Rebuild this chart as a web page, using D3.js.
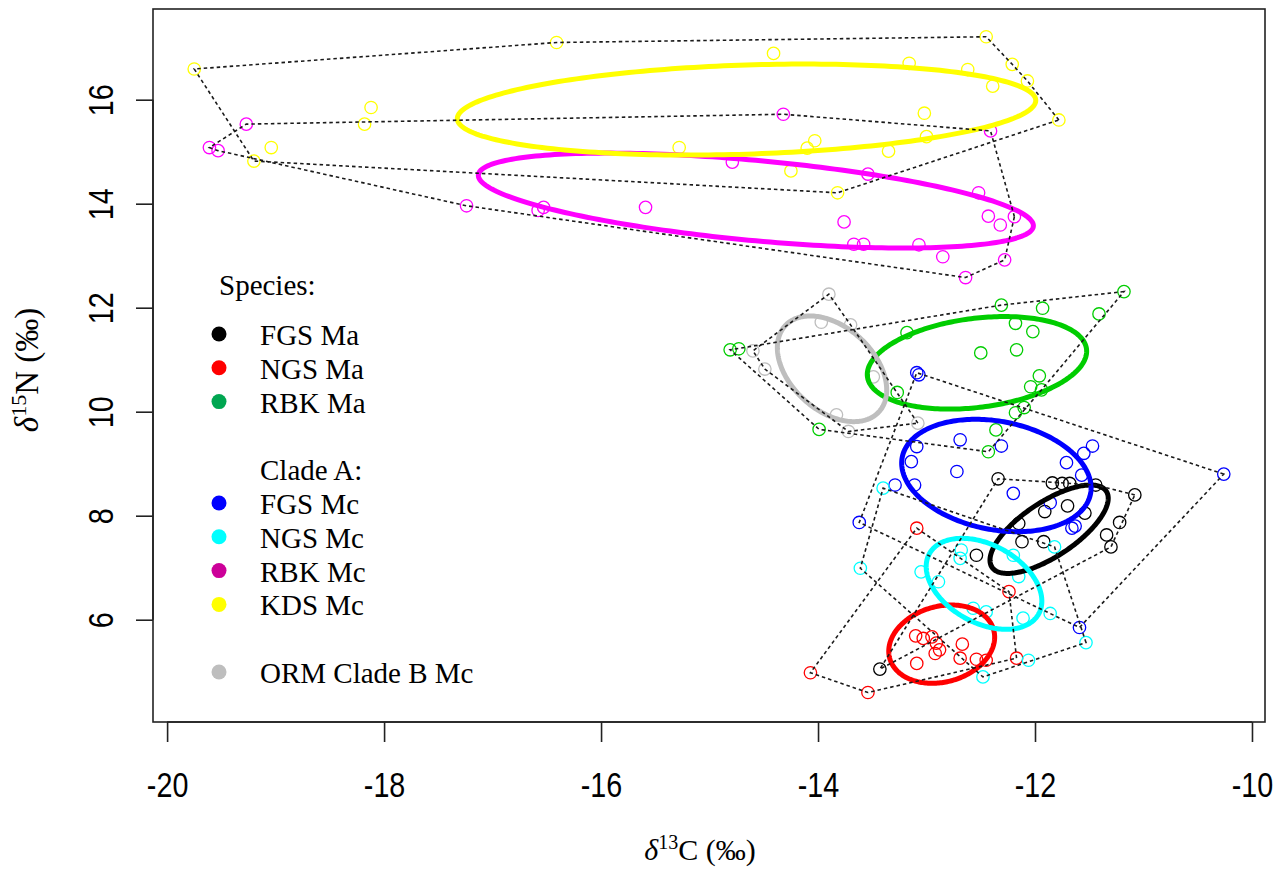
<!DOCTYPE html>
<html>
<head>
<meta charset="utf-8">
<script src="https://cdn.jsdelivr.net/npm/d3@7"></script>
<style>
  body { margin: 0; background: #fff; }
  svg { display: block; }
</style>
</head>
<body>
<div id="chart"></div>
<script>
// group names, in drawing order
const groups = ["FGS Ma", "NGS Ma", "RBK Ma", "FGS Mc", "NGS Mc", "RBK Mc", "KDS Mc", "ORM Clade B Mc"];
const groupColors = ["#000000", "#FF0000", "#00CD00", "#0000FF", "#00FFFF", "#FF00FF", "#FFFF00", "#BEBEBE"];

// [d13C, d15N] per sample
const fgsMa = [[-12.34,8.71],[-11.84,8.63],[-11.75,8.62],[-11.68,8.62],[-11.44,8.59],[-11.08,8.40],[-11.70,8.19],[-11.91,8.08],[-11.54,8.05],[-12.15,7.85],[-11.22,7.87],[-11.34,7.63],[-11.30,7.40],[-12.12,7.50],[-11.92,7.50],[-12.54,7.24],[-13.43,5.05]];
const ngsMa = [[-13.09,7.76],[-12.24,6.54],[-13.10,5.69],[-13.03,5.64],[-12.95,5.67],[-12.91,5.55],[-12.88,5.42],[-12.92,5.35],[-12.67,5.53],[-12.69,5.26],[-13.09,5.16],[-12.54,5.24],[-12.45,5.22],[-12.17,5.26],[-14.07,4.98],[-13.54,4.60]];
const rbkMa = [[-14.81,11.19],[-14.73,11.21],[-13.99,9.66],[-13.27,10.37],[-13.18,11.52],[-12.31,12.05],[-11.93,11.99],[-11.18,12.31],[-11.41,11.88],[-12.18,11.70],[-12.02,11.54],[-12.50,11.13],[-12.17,11.19],[-11.96,10.69],[-12.04,10.48],[-11.94,10.42],[-12.18,9.98],[-12.10,10.08],[-12.36,9.65],[-12.43,9.23]];
const fgsMc = [[-13.09,10.75],[-13.07,10.71],[-12.69,9.46],[-12.31,9.34],[-13.09,9.33],[-13.14,9.04],[-12.72,8.85],[-11.71,9.02],[-11.55,9.20],[-11.47,9.34],[-13.29,8.59],[-13.11,8.59],[-12.20,8.43],[-11.86,8.25],[-11.57,8.78],[-13.62,7.87],[-11.66,7.76],[-11.63,7.80],[-11.59,5.85],[-10.26,8.80]];
const ngsMc = [[-13.40,8.53],[-13.61,6.99],[-12.68,7.34],[-12.69,7.18],[-13.05,6.92],[-12.89,6.73],[-12.20,7.24],[-12.15,6.83],[-11.82,7.40],[-12.57,6.22],[-12.45,6.15],[-11.86,6.12],[-12.11,6.03],[-11.53,5.56],[-12.06,5.22],[-12.48,4.90]];
const rbkMc = [[-19.27,15.53],[-19.61,15.08],[-19.53,15.02],[-17.24,13.96],[-16.53,13.93],[-16.58,13.87],[-14.32,15.72],[-12.41,15.40],[-14.79,14.80],[-13.54,14.57],[-12.52,14.21],[-12.43,13.76],[-12.32,13.59],[-12.19,13.75],[-15.59,13.93],[-13.76,13.65],[-13.67,13.22],[-13.58,13.22],[-13.07,13.21],[-12.85,12.98],[-12.28,12.92],[-12.64,12.58]];
const kdsMc = [[-19.75,16.59],[-18.12,15.85],[-18.18,15.53],[-19.04,15.08],[-19.20,14.82],[-16.41,17.10],[-14.41,16.89],[-12.45,17.21],[-13.16,16.70],[-12.62,16.58],[-12.21,16.68],[-12.07,16.36],[-12.39,16.26],[-11.78,15.61],[-13.02,15.74],[-14.03,15.21],[-14.10,15.07],[-13.00,15.29],[-13.35,15.01],[-15.28,15.08],[-14.25,14.63],[-13.82,14.21]];
const ormB = [[-13.90,12.26],[-13.97,11.72],[-13.70,11.67],[-14.60,11.17],[-14.49,10.82],[-13.49,10.67],[-13.83,9.94],[-13.72,9.62],[-13.08,9.78]];
const samples = [fgsMa, ngsMa, rbkMa, fgsMc, ngsMc, rbkMc, kdsMc, ormB];

// standard ellipses: centre, half extent in x and y, correlation
const ellCx = [-11.87, -12.86, -12.535, -12.356, -12.47, -14.573, -14.659, -13.871];
const ellCy = [7.74, 5.53, 10.94, 8.773, 6.69, 14.06, 15.81, 10.825];
const ellSx = [0.545, 0.488, 1.011, 0.873, 0.533, 2.558, 2.666, 0.504];
const ellSy = [0.85, 0.753, 0.89, 1.081, 0.875, 0.913, 0.875, 1.016];
const ellR  = [0.70, 0.18, 0.25, -0.22, -0.38, -0.53, 0.20, -0.40];

const xTicks = [-20, -18, -16, -14, -12, -10];
const yTicks = [6, 8, 10, 12, 14, 16];

// legend
const legendTitle = "Species:";
const legendText = ["FGS Ma", "NGS Ma", "RBK Ma", "", "Clade A:", "FGS Mc", "NGS Mc", "RBK Mc", "KDS Mc", "", "ORM Clade B Mc"];
const legendFill = ["#000000", "#FF0000", "#00A651", null, null, "#0000FF", "#00FFFF", "#CC0099", "#FFFF00", null, "#BEBEBE"];

const width = 1282, height = 869;
const box = { left: 153, top: 9, right: 1265, bottom: 722 };

const svg = d3.select("#chart").append("svg")
  .attr("width", width)
  .attr("height", height)
  .style("background", "#fff");

const x = d3.scaleLinear().domain([-20.13, -9.88]).range([box.left, box.right]);
const y = d3.scaleLinear().domain([4.033, 17.744]).range([box.bottom, box.top]);

// points first
samples.forEach((pts, i) => {
  svg.append("g")
    .selectAll("circle")
    .data(pts)
    .join("circle")
    .attr("cx", d => x(d[0]))
    .attr("cy", d => y(d[1]))
    .attr("r", 6.2)
    .attr("fill", "none")
    .attr("stroke", groupColors[i])
    .attr("stroke-width", 1.3);
});

// ellipses
const ellLine = d3.line().x(d => x(d[0])).y(d => y(d[1])).curve(d3.curveLinearClosed);
groups.forEach((g, i) => {
  const k = Math.sqrt(1 - ellR[i] * ellR[i]);
  const ring = d3.range(0, 2 * Math.PI, Math.PI / 120).map(t => [
    ellCx[i] + ellSx[i] * Math.cos(t),
    ellCy[i] + ellSy[i] * (ellR[i] * Math.cos(t) + k * Math.sin(t))
  ]);
  svg.append("path")
    .attr("d", ellLine(ring))
    .attr("fill", "none")
    .attr("stroke", groupColors[i])
    .attr("stroke-width", 5);
});

// convex hulls, dotted
samples.forEach(pts => {
  const hull = d3.polygonHull(pts.map(d => [x(d[0]), y(d[1])]));
  svg.append("path")
    .attr("d", "M" + hull.join("L") + "Z")
    .attr("fill", "none")
    .attr("stroke", "#1a1a1a")
    .attr("stroke-width", 1.6)
    .attr("stroke-dasharray", "3.5,3");
});

// box
svg.append("rect")
  .attr("x", box.left).attr("y", box.top)
  .attr("width", box.right - box.left).attr("height", box.bottom - box.top)
  .attr("fill", "none").attr("stroke", "#222").attr("stroke-width", 1.6);

const tickFont = "'Liberation Sans', Arial, sans-serif";

const gx = svg.append("g")
  .attr("transform", `translate(0,${box.bottom})`)
  .call(d3.axisBottom(x).tickValues(xTicks).tickSize(20).tickSizeOuter(0).tickFormat(d => String(d)));
gx.select(".domain").attr("stroke", "#222").attr("stroke-width", 1.6)
  .attr("d", `M${x(xTicks[0])},0H${x(xTicks[xTicks.length - 1])}`);
gx.selectAll(".tick line").attr("stroke", "#222").attr("stroke-width", 1.6);
gx.selectAll(".tick text")
  .attr("y", null).attr("dy", null)
  .attr("transform", "translate(0,75) scale(0.82,1)")
  .attr("fill", "#000")
  .style("font-family", tickFont).style("font-size", "35px");

const gy = svg.append("g")
  .attr("transform", `translate(${box.left},0)`)
  .call(d3.axisLeft(y).tickValues(yTicks).tickSize(17).tickSizeOuter(0).tickFormat(d => String(d)));
gy.select(".domain").attr("stroke", "#222").attr("stroke-width", 1.6)
  .attr("d", `M0,${y(yTicks[0])}V${y(yTicks[yTicks.length - 1])}`);
gy.selectAll(".tick line").attr("stroke", "#222").attr("stroke-width", 1.6);
gy.selectAll(".tick text")
  .attr("x", null).attr("dy", null)
  .attr("text-anchor", "middle")
  .attr("transform", "translate(-40,0) rotate(-90) scale(0.82,1)")
  .attr("fill", "#000")
  .style("font-family", tickFont).style("font-size", "35px");

// axis titles
const serif = "'Liberation Serif', 'Times New Roman', serif";
const xt = svg.append("text")
  .attr("x", 700).attr("y", 860)
  .attr("text-anchor", "middle")
  .style("font-family", serif).style("font-size", "30px");
xt.append("tspan").style("font-style", "italic").text("δ");
xt.append("tspan").attr("dy", -11).style("font-size", "20px").text("13");
xt.append("tspan").attr("dy", 11).text("C (‰)");

const yt = svg.append("text")
  .attr("transform", "translate(38,370) rotate(-90)")
  .attr("text-anchor", "middle")
  .style("font-family", serif).style("font-size", "33px");
yt.append("tspan").style("font-style", "italic").text("δ");
yt.append("tspan").attr("dy", -12).style("font-size", "22px").text("15");
yt.append("tspan").attr("dy", 12).text("N (‰)");

// legend
const legend = svg.append("g").style("font-family", serif).style("font-size", "29px");
legend.append("text").attr("x", 219).attr("y", 295).text(legendTitle);
const rowY = d3.scaleLinear().domain([0, 10]).range([334, 672]);
legendText.forEach((t, i) => {
  if (legendFill[i]) {
    legend.append("circle")
      .attr("cx", 219).attr("cy", rowY(i)).attr("r", 7.5)
      .attr("fill", legendFill[i]);
  }
  if (t) {
    legend.append("text").attr("x", 260).attr("y", rowY(i) + 11).text(t);
  }
});
</script>
</body>
</html>
